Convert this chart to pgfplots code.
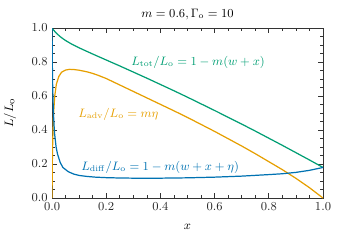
\documentclass[border=0pt]{standalone}
\usepackage{pgfplots}
\pgfplotsset{compat=1.18}
\definecolor{cgreen}{HTML}{009E73}
\definecolor{corange}{HTML}{E69F00}
\definecolor{cblue}{HTML}{0072B2}
\begin{document}
\fontsize{9}{11}\selectfont
\begin{tikzpicture}
\useasboundingbox (-0.531in,-0.469in) rectangle (2.969in,2.021in);
\begin{axis}[
  at={(0,0)}, anchor=south west,
  scale only axis, width=2.765in, height=1.735in,
  xmin=0, xmax=1, ymin=0, ymax=1,
  xtick={0,0.2,...,1.0}, ytick={0,0.2,...,1.0},
  minor x tick num=3, minor y tick num=3,
  tick align=inside, xtick pos=both, ytick pos=both,
  major tick length=3.5pt, minor tick length=2pt,
  tick style={color=black!80, line width=0.5pt},
  axis line style={black!80, line width=0.6pt},
  xticklabel style={/pgf/number format/fixed, /pgf/number format/fixed zerofill, /pgf/number format/precision=1},
  yticklabel style={/pgf/number format/fixed, /pgf/number format/fixed zerofill, /pgf/number format/precision=1},
  ticklabel style={font=\fontsize{9.5}{11}\selectfont, color=black!85},
  xlabel={$x$}, ylabel={$L/L_{\mathrm{o}}$},
  every axis x label/.style={at={(axis description cs:0.5,-0.17)}, anchor=center, font=\fontsize{9.5}{11}\selectfont},
  every axis y label/.style={at={(axis description cs:-0.155,0.5)}, anchor=center, rotate=90, font=\fontsize{9.5}{11}\selectfont},
  title={$m=0.6, \Gamma_{\mathrm{o}}=10$},
  title style={font=\fontsize{9}{11}\selectfont, yshift=-3pt},
]
\addplot[cgreen, line width=0.9pt] coordinates {
(0,1.0) (0.002,0.994) (0.005,0.9896) (0.01,0.980) (0.02,0.9637) (0.03,0.9496) (0.04,0.9375)
(0.05,0.9266) (0.07,0.9077) (0.1,0.8835) (0.15,0.8471) (0.2,0.812) (0.25,0.777)
(0.3,0.741) (0.35,0.705) (0.4,0.668) (0.45,0.631) (0.5,0.593) (0.55,0.554)
(0.6,0.515) (0.65,0.475) (0.7,0.435) (0.75,0.394) (0.8,0.352) (0.85,0.310)
(0.9,0.267) (0.95,0.224) (1.0,0.18)};
\addplot[corange, line width=0.9pt] coordinates {
(0,0.0) (0.001,0.2) (0.002,0.3) (0.005,0.48) (0.01,0.6) (0.016,0.67) (0.025,0.715)
(0.035,0.74) (0.05,0.753) (0.065,0.757) (0.08,0.756) (0.1,0.752) (0.13,0.742)
(0.15,0.733) (0.17,0.722) (0.2,0.703) (0.25,0.665) (0.3,0.627) (0.35,0.589)
(0.4,0.551) (0.45,0.513) (0.5,0.474) (0.55,0.433) (0.6,0.392) (0.65,0.349)
(0.7,0.306) (0.75,0.261) (0.8,0.214) (0.85,0.167) (0.9,0.116) (0.95,0.061) (1.0,0.0)};
\addplot[cblue, line width=0.9pt] coordinates {
(0,1.0) (0.001,0.8) (0.002,0.68) (0.005,0.5) (0.009,0.385) (0.015,0.3) (0.02,0.26)
(0.03,0.21) (0.04,0.18) (0.06,0.155) (0.08,0.141) (0.1,0.133) (0.13,0.127) (0.16,0.123)
(0.2,0.12) (0.25,0.118) (0.3,0.117) (0.4,0.117) (0.5,0.119) (0.6,0.123) (0.7,0.129)
(0.8,0.138) (0.85,0.143) (0.9,0.151) (0.95,0.163) (1.0,0.18)};
\node[cgreen, font=\fontsize{9}{11}\selectfont] at (axis cs:0.539,0.80) {$L_{\mathrm{tot}}/L_{\mathrm{o}} = 1 - m(w+x)$};
\node[corange, font=\fontsize{9}{11}\selectfont] at (axis cs:0.245,0.494) {$L_{\mathrm{adv}}/L_{\mathrm{o}} = m\eta$};
\node[cblue, font=\fontsize{9}{11}\selectfont] at (axis cs:0.399,0.182) {$L_{\mathrm{diff}}/L_{\mathrm{o}} = 1 - m(w+x+\eta)$};
\end{axis}
\end{tikzpicture}
\end{document}
